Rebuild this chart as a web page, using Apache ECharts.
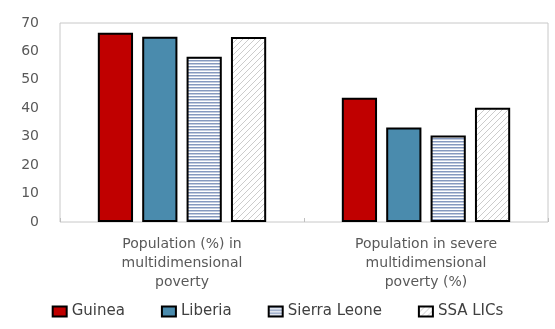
<!DOCTYPE html>
<html>
<head>
<meta charset="utf-8">
<script src="https://cdn.jsdelivr.net/npm/echarts@6/dist/echarts.min.js"></script>
<style>
  html, body { margin: 0; padding: 0; background: #fff; }
  #chart { width: 555px; height: 329px; }
</style>
</head>
<body>
<div id="chart"></div>
<script>
// data
const categories = ['Population (%) in\nmultidimensional\npoverty', 'Population in severe\nmultidimensional\npoverty (%)'];
const seriesNames = ['Guinea', 'Liberia', 'Sierra Leone', 'SSA LICs'];
const guinea = [66.6, 43.7];
const liberia = [65.2, 33.2];
const sierraLeone = [58.1, 30.4];
const ssaLics = [65.1, 40.2];
const yTicks = [0, 10, 20, 30, 40, 50, 60, 70];

// fill patterns
const makePattern = (w, h, draw) => {
  const c = document.createElement('canvas');
  c.width = w; c.height = h;
  const ctx = c.getContext('2d');
  ctx.fillStyle = '#fff';
  ctx.fillRect(0, 0, w, h);
  draw(ctx);
  return { image: c, repeat: 'repeat' };
};
const stripes = makePattern(4, 3, ctx => {
  ctx.fillStyle = '#8599bf';
  ctx.fillRect(0, 0, 4, 1);
  ctx.fillStyle = '#c3cde0';
  ctx.fillRect(0, 1, 4, 1);
});
const hatch = makePattern(6, 6, ctx => {
  ctx.fillStyle = '#cccccc';
  for (let i = 0; i < 6; i++) {
    ctx.fillRect(5 - i, i, 1, 1);
  }
});

const fills = ['#c00000', '#4a8bad', stripes, hatch];
const values = [guinea, liberia, sierraLeone, ssaLics];

const chart = echarts.init(document.getElementById('chart'), null, { renderer: 'canvas' });
const font = 'DejaVu Sans';
const option = {
  animation: false,
  grid: {
    left: 60, right: 7, top: 23, bottom: 107,
    show: true, borderColor: '#c8c8c8', borderWidth: 1
  },
  legend: {
    bottom: 5,
    left: 'center',
    icon: 'rect',
    itemWidth: 14,
    itemHeight: 10,
    itemGap: 36,
    textStyle: { fontFamily: font, fontSize: 15, color: '#404040' },
    itemStyle: { borderWidth: 2, borderColor: '#000' },
    data: seriesNames
  },
  xAxis: {
    type: 'category',
    data: categories,
    axisLine: { show: false },
    axisTick: { show: true, inside: true, length: 4, lineStyle: { color: '#bfbfbf' } },
    axisLabel: {
      fontFamily: font, fontSize: 14, color: '#595959',
      lineHeight: 19, margin: 13, interval: 0
    }
  },
  yAxis: {
    type: 'value',
    min: yTicks[0],
    max: yTicks[yTicks.length - 1],
    interval: 10,
    splitLine: { show: false },
    axisLine: { show: false },
    axisTick: { show: false },
    axisLabel: { fontFamily: font, fontSize: 14, color: '#595959', margin: 21 }
  },
  series: seriesNames.map((name, i) => ({
    name: name,
    type: 'bar',
    data: values[i],
    barGap: '26%',
    barCategoryGap: '31%',
    itemStyle: { color: fills[i], borderColor: '#000', borderWidth: 2 }
  }))
};
chart.setOption(option);
</script>
</body>
</html>
